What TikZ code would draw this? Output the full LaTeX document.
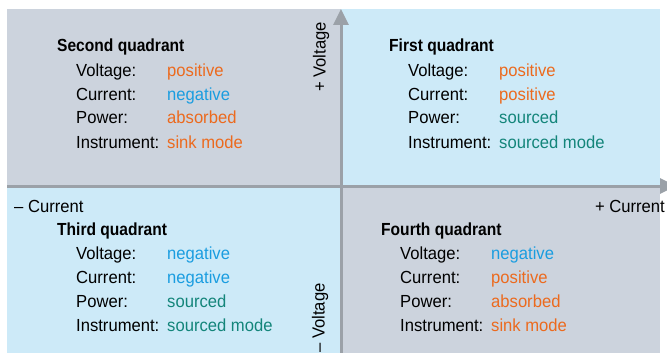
\documentclass[tikz,border=0pt]{standalone}
\usepackage{fontspec}
\setmainfont{Liberation Sans}[FakeStretch=0.95, BoldFeatures={FakeStretch=0.89}]
\usetikzlibrary{arrows.meta}
\definecolor{qgray}{HTML}{CCD3DD}
\definecolor{qblue}{HTML}{CDEAF8}
\definecolor{axisgray}{HTML}{9BA1A8}
\definecolor{vorange}{HTML}{EC6A1E}
\definecolor{vblue}{HTML}{1A9DE0}
\definecolor{vteal}{HTML}{13857A}
\begin{document}
\begin{tikzpicture}[x=1pt,y=-1pt,
  txt/.style={anchor=base west, inner sep=0pt, font=\fontsize{17.5}{21}\selectfont},
  ttl/.style={txt, font=\fontsize{17.5}{21}\selectfont\bfseries},
  valpos/.style={txt, text=vorange},
  valneg/.style={txt, text=vblue},
  valsrc/.style={txt, text=vteal},
  axisline/.style={draw=axisgray, line width=3pt, -{Triangle[length=16pt,width=15pt]}},
  axlbl/.style={inner sep=0pt, font=\fontsize{17.5}{21}\selectfont}]
\useasboundingbox (0,0) rectangle (667,353);
\clip (0,0) rectangle (667,353);
% panels
\fill[qgray] (7,9) rectangle (341,186);
\fill[qblue] (341,9) rectangle (660,186);
\fill[qblue] (7,186) rectangle (341,353);
\fill[qgray] (341,186) rectangle (660,353);
% axes
\coordinate (xl) at (7,186);
\coordinate (xr) at (676,186);
\coordinate (yb) at (341,353);
\coordinate (yt) at (341,9);
\draw[axisline] (xl) -- (xr);
\draw[axisline] (yb) -- (yt);
% axis labels
\node[axlbl, rotate=90] (pv) at (321,57) {+ Voltage};
\node[axlbl, rotate=90] (nv) at (320,318) {– Voltage};
\node[txt] (nc) at (14,212) {– Current};
\node[txt, anchor=base east] (pc) at (665,212) {+ Current};
% second quadrant
\node[ttl] (t2) at (57,52) {Second quadrant};
\node[txt] (l2a) at (76,77) {Voltage:};
\node[txt] (l2b) at (76,100) {Current:};
\node[txt] (l2c) at (76,124) {Power:};
\node[txt] (l2d) at (76,148) {Instrument:};
\node[valpos] (v2a) at (167,77) {positive};
\node[valneg] (v2b) at (167,100) {negative};
\node[valpos] (v2c) at (167,124) {absorbed};
\node[valpos] (v2d) at (167,148) {sink mode};
% first quadrant
\node[ttl] (t1) at (389,52) {First quadrant};
\node[txt] (l1a) at (408,77) {Voltage:};
\node[txt] (l1b) at (408,100) {Current:};
\node[txt] (l1c) at (408,124) {Power:};
\node[txt] (l1d) at (408,148) {Instrument:};
\node[valpos] (v1a) at (499,77) {positive};
\node[valpos] (v1b) at (499,100) {positive};
\node[valsrc] (v1c) at (499,124) {sourced};
\node[valsrc] (v1d) at (499,148) {sourced mode};
% third quadrant
\node[ttl] (t3) at (57,235) {Third quadrant};
\node[txt] (l3a) at (76,259) {Voltage:};
\node[txt] (l3b) at (76,283) {Current:};
\node[txt] (l3c) at (76,307) {Power:};
\node[txt] (l3d) at (76,331) {Instrument:};
\node[valneg] (v3a) at (167,259) {negative};
\node[valneg] (v3b) at (167,283) {negative};
\node[valsrc] (v3c) at (167,307) {sourced};
\node[valsrc] (v3d) at (167,331) {sourced mode};
% fourth quadrant
\node[ttl] (t4) at (381,235) {Fourth quadrant};
\node[txt] (l4a) at (400,259) {Voltage:};
\node[txt] (l4b) at (400,283) {Current:};
\node[txt] (l4c) at (400,307) {Power:};
\node[txt] (l4d) at (400,331) {Instrument:};
\node[valneg] (v4a) at (491,259) {negative};
\node[valpos] (v4b) at (491,283) {positive};
\node[valpos] (v4c) at (491,307) {absorbed};
\node[valpos] (v4d) at (491,331) {sink mode};
\end{tikzpicture}
\end{document}
